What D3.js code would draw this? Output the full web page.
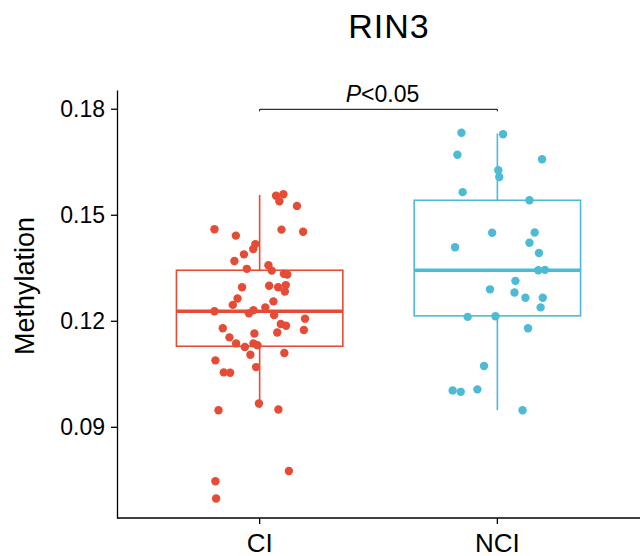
<!DOCTYPE html>
<html>
<head>
<meta charset="utf-8">
<script src="https://cdn.jsdelivr.net/npm/d3@7"></script>
<style>
body { margin: 0; background: #fff; }
text { font-family: "Liberation Sans", Arial, sans-serif; }
</style>
</head>
<body>
<div id="canvas"></div>
<script>
const groups = ["CI", "NCI"];
const colors = ["#E64B35", "#4DBBD5"];
const yTicks = [0.09, 0.12, 0.15, 0.18];

// box stats: whisker low, q1, median, q3, whisker high
const boxLow = [0.0953, 0.0947];
const boxQ1 = [0.1128, 0.1214];
const boxMed = [0.1227, 0.1343];
const boxQ3 = [0.1343, 0.1541];
const boxHigh = [0.1556, 0.1730];

// jittered points: value and horizontal jitter (in category units)
const ciValues = [0.1554, 0.1558, 0.1538, 0.1525, 0.1459, 0.1458, 0.1452, 0.1441, 0.1417, 0.1403,
    0.1388, 0.1369, 0.1357, 0.1342, 0.1347, 0.1333, 0.1331, 0.1295, 0.1299, 0.1295,
    0.1301, 0.1283, 0.1263, 0.1245, 0.1255, 0.1227, 0.1230, 0.1221, 0.1238, 0.1216,
    0.1206, 0.1191, 0.1186, 0.1179, 0.1174, 0.1164, 0.1167, 0.1153, 0.1136, 0.1126,
    0.1136, 0.1131, 0.1104, 0.1109, 0.1088, 0.1054, 0.1053, 0.1069, 0.0966, 0.0947,
    0.0949, 0.0775, 0.0746, 0.0697];
const ciJitter = [0.069, 0.100, 0.083, 0.157, -0.190, 0.092, 0.183, -0.100, -0.018, -0.027,
    -0.066, -0.106, 0.037, 0.051, -0.054, 0.102, 0.116, -0.074, 0.040, 0.078,
    0.110, 0.106, -0.093, -0.113, 0.058, -0.190, -0.026, -0.045, 0.024, 0.061,
    0.191, 0.089, 0.111, -0.155, 0.186, -0.022, 0.074, -0.127, -0.099, -0.062,
    -0.026, -0.009, -0.039, 0.104, -0.186, -0.151, -0.124, -0.015, -0.003, -0.173,
    0.079, 0.123, -0.186, -0.183];
const nciValues = [0.1732, 0.1728, 0.1670, 0.1657, 0.1626, 0.1607, 0.1564, 0.1541, 0.1449, 0.1450,
    0.1408, 0.1421, 0.1392, 0.1343, 0.1344, 0.1313, 0.1289, 0.1280, 0.1265, 0.1265,
    0.1238, 0.1211, 0.1213, 0.1179, 0.1072, 0.1003, 0.0999, 0.1006, 0.0947];
const nciJitter = [-0.151, 0.024, -0.168, 0.188, 0.004, 0.008, -0.146, 0.135, -0.022, 0.157,
    -0.178, 0.135, 0.175, 0.172, 0.200, 0.076, -0.031, 0.072, 0.118, 0.191,
    0.182, -0.125, -0.008, 0.129, -0.056, -0.188, -0.154, -0.084, 0.106];

const width = 640;
const height = 556;
const margin = { top: 90, left: 117, bottom: 38, right: 0 };
const iwidth = width - margin.left - margin.right;
const iheight = height - margin.top - margin.bottom;

const canvas = d3.select("#canvas");
const svg = canvas.append("svg")
    .attr("width", width)
    .attr("height", height);

const g = svg.append("g").attr("transform", `translate(${margin.left},${margin.top})`);

// ggplot-like discrete axis: positions 1..2, expanded 0.6 each side
const xc = d3.scaleLinear().domain([0.4, 2.6]).range([0, iwidth]);
const step = xc(2) - xc(1);
const x = name => xc(groups.indexOf(name) + 1);

const y = d3.scaleLinear()
    .domain([0.0642, 0.1853])
    .range([iheight, 0]);

// boxes
const boxW = 0.7 * step;
groups.forEach((name, i) => {
    const cx = x(name);
    const bg = g.append("g").attr("stroke", colors[i]).attr("fill", "none");
    bg.append("line")
        .attr("x1", cx).attr("x2", cx)
        .attr("y1", y(boxQ3[i])).attr("y2", y(boxHigh[i]))
        .attr("stroke-width", 1.6);
    bg.append("line")
        .attr("x1", cx).attr("x2", cx)
        .attr("y1", y(boxQ1[i])).attr("y2", y(boxLow[i]))
        .attr("stroke-width", 1.6);
    bg.append("rect")
        .attr("x", cx - boxW / 2)
        .attr("y", y(boxQ3[i]))
        .attr("width", boxW)
        .attr("height", y(boxQ1[i]) - y(boxQ3[i]))
        .attr("stroke-width", 1.6);
    bg.append("line")
        .attr("x1", cx - boxW / 2).attr("x2", cx + boxW / 2)
        .attr("y1", y(boxMed[i])).attr("y2", y(boxMed[i]))
        .attr("stroke-width", 3.4);
});

// points
const pts = [];
ciValues.forEach((v, i) => pts.push({ group: "CI", value: v, jit: ciJitter[i] }));
nciValues.forEach((v, i) => pts.push({ group: "NCI", value: v, jit: nciJitter[i] }));

g.selectAll("circle").data(pts).enter().append("circle")
    .attr("cx", d => x(d.group) + d.jit * step)
    .attr("cy", d => y(d.value))
    .attr("r", 4.2)
    .style("fill", d => colors[groups.indexOf(d.group)]);

// axes
const yAxis = g.append("g")
    .call(d3.axisLeft(y).tickValues(yTicks).tickFormat(d3.format(".2f")).tickSize(6).tickSizeOuter(0));
yAxis.select(".domain").attr("stroke", "#000").attr("stroke-width", 1.3);
yAxis.selectAll(".tick line").attr("stroke", "#000").attr("stroke-width", 1.3);
yAxis.selectAll(".tick text")
    .attr("x", -12)
    .attr("dy", "0.35em")
    .attr("font-size", 23)
    .attr("fill", "#000")
    .style("font-family", "Liberation Sans, Arial, sans-serif");

const xAxisG = g.append("g").attr("transform", `translate(0,${iheight})`);
xAxisG.append("line")
    .attr("x1", 0).attr("x2", iwidth)
    .attr("stroke", "#000").attr("stroke-width", 1.3);
groups.forEach(name => {
    xAxisG.append("line")
        .attr("x1", x(name)).attr("x2", x(name))
        .attr("y1", 0).attr("y2", 6)
        .attr("stroke", "#000").attr("stroke-width", 1.3);
    xAxisG.append("text")
        .attr("x", x(name))
        .attr("y", 33.5)
        .attr("text-anchor", "middle")
        .attr("font-size", 26)
        .attr("fill", "#000")
        .text(name);
});

// y label
svg.append("text")
    .attr("transform", `translate(34,286) rotate(-90)`)
    .attr("text-anchor", "middle")
    .attr("font-size", 27)
    .attr("fill", "#000")
    .text("Methylation");

// title
svg.append("text")
    .attr("x", 389)
    .attr("y", 38)
    .attr("text-anchor", "middle")
    .attr("font-size", 34)
    .attr("letter-spacing", 1)
    .attr("fill", "#000")
    .text("RIN3");

// significance bracket
const by = 109.3 - margin.top;
g.append("path")
    .attr("d", `M${x("CI")},${by + 2}V${by}H${x("NCI")}V${by + 2}`)
    .attr("fill", "none")
    .attr("stroke", "#000")
    .attr("stroke-width", 1);
const sig = g.append("text")
    .attr("x", (x("CI") + x("NCI")) / 2 + 4)
    .attr("y", by - 7)
    .attr("text-anchor", "middle")
    .attr("font-size", 23)
    .attr("fill", "#000");
sig.append("tspan").attr("font-style", "italic").text("P");
sig.append("tspan").text("<0.05");
</script>
</body>
</html>
